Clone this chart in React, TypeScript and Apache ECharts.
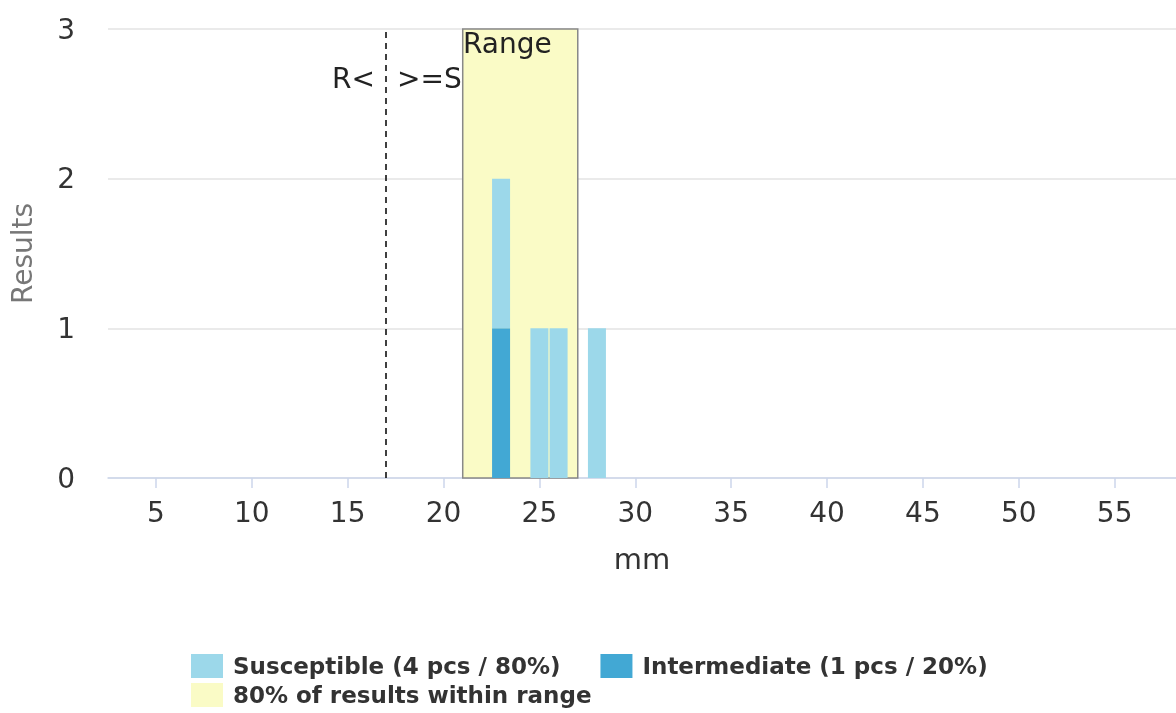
import React, { useEffect, useRef } from "react";
import * as echarts from "echarts";

const xTicks = [5, 10, 15, 20, 25, 30, 35, 40, 45, 50, 55];
const susceptible: [number, number][] = [[23, 1], [25, 1], [26, 1], [28, 1]];
const intermediate: [number, number][] = [[23, 1]];
const rangeBand = [21, 27];
const breakpoint = 17;
const seriesNames = ["Susceptible (4 pcs / 80%)", "Intermediate (1 pcs / 20%)", "80% of results within range"];
const colors = { susceptible: "#9cd8ea", intermediate: "#42a8d4", range: "#fafbc6" };

export default function App() {
  const ref = useRef<HTMLDivElement>(null);
  useEffect(() => {
    const chart = echarts.init(ref.current!, undefined, { renderer: "svg" });
    const font = "DejaVu Sans";
    const fs = 28;
    // stacked data: [x, value, base]
    const interData = intermediate.map(([x, v]) => [x, v, 0]);
    const suscData = susceptible.map(([x, v]) => {
      const below = intermediate.find((d) => d[0] === x);
      return [x, v, below ? below[1] : 0];
    });
    const barRender = (color: string) => (params: any, api: any) => {
      const x = api.value(0);
      const v = api.value(1);
      const b = api.value(2);
      const p0 = api.coord([x, b]);
      const p1 = api.coord([x, b + v]);
      const half = 9;
      return {
        type: "rect",
        shape: { x: p0[0] - half, y: p1[1], width: half * 2, height: p0[1] - p1[1] },
        style: { fill: color },
      };
    };
    const legendText = { fontFamily: font, fontWeight: "bold", fontSize: 23, color: "#333", padding: [0, 0, 0, 5] };
    chart.setOption({
      animation: false,
      grid: { left: 107, right: 0, top: 29, bottom: 235 },
      legend: [
        {
          left: 191, top: 654, padding: 0, itemWidth: 32, itemHeight: 24, itemGap: 40, icon: "rect",
          data: [seriesNames[0], seriesNames[1]],
          textStyle: legendText,
        },
        {
          left: 191, top: 683, padding: 0, itemWidth: 32, itemHeight: 24, icon: "rect",
          data: [{ name: seriesNames[2], itemStyle: { color: colors.range } }],
          textStyle: legendText,
        },
      ],
      xAxis: {
        type: "value", min: 2.5, max: 58.2,
        name: "mm", nameLocation: "middle", nameGap: 66,
        nameTextStyle: { fontFamily: font, fontSize: 29, color: "#333" },
        splitLine: { show: false },
        axisLine: { show: true, lineStyle: { color: "#ccd6eb", width: 1.5 } },
        axisTick: { show: true, length: 10, customValues: xTicks, lineStyle: { color: "#ccd6eb", width: 1.5 } },
        axisLabel: { customValues: xTicks, fontFamily: font, fontSize: fs, color: "#333", margin: 20 },
      },
      yAxis: {
        type: "value", min: 0, max: 3, interval: 1,
        name: "Results", nameLocation: "middle", nameGap: 72, nameRotate: 90,
        nameTextStyle: { fontFamily: font, fontSize: fs, color: "#777" },
        splitLine: { lineStyle: { color: "#e3e3e3", width: 1.5 } },
        axisLine: { show: false },
        axisTick: { show: false },
        axisLabel: { fontFamily: font, fontSize: fs, color: "#333", margin: 33 },
      },
      series: [
        {
          name: seriesNames[2], type: "line", data: [], z: 1,
          itemStyle: { color: colors.range }, lineStyle: { color: colors.range },
          markArea: {
            silent: true,
            itemStyle: { color: colors.range, borderColor: "#888", borderWidth: 1.5 },
            label: { show: true, position: "insideTopLeft", distance: 1, formatter: "Range", fontFamily: font, fontSize: fs, color: "#222" },
            data: [[{ xAxis: rangeBand[0] }, { xAxis: rangeBand[1] }]],
          },
          markLine: {
            silent: true, symbol: "none",
            lineStyle: { color: "#000", type: [6, 5], width: 1.5 },
            label: { show: false },
            data: [{ xAxis: breakpoint }],
          },
          markPoint: {
            silent: true, symbol: "circle", symbolSize: 0,
            data: [
              { coord: [breakpoint, 2.67], label: { show: true, position: "left", distance: 11, formatter: "R<", fontFamily: font, fontSize: fs, color: "#222" } },
              { coord: [breakpoint, 2.67], label: { show: true, position: "right", distance: 11, formatter: ">=S", fontFamily: font, fontSize: fs, color: "#222" } },
            ],
          },
        },
        {
          name: seriesNames[1], type: "custom", z: 3,
          itemStyle: { color: colors.intermediate },
          renderItem: barRender(colors.intermediate),
          encode: { x: 0, y: 1 },
          data: interData,
        },
        {
          name: seriesNames[0], type: "custom", z: 3,
          itemStyle: { color: colors.susceptible },
          renderItem: barRender(colors.susceptible),
          encode: { x: 0, y: 1 },
          data: suscData,
        },
      ],
    });
    return () => chart.dispose();
  }, []);
  return <div ref={ref} style={{ position: "fixed", left: 0, top: 0, width: 1176, height: 713 }} />;
}
